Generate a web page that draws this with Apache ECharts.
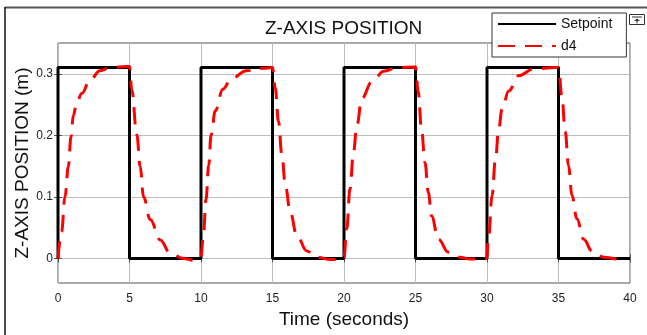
<!DOCTYPE html>
<html>
<head>
<meta charset="utf-8">
<title>Z-AXIS POSITION</title>
<script src="https://cdn.jsdelivr.net/npm/echarts@6/dist/echarts.min.js"></script>
<style>
  html, body { margin: 0; padding: 0; background: #fff; }
  #chart { width: 647px; height: 335px; }
</style>
</head>
<body>
<div id="chart"></div>
<script>
// setpoint: square wave
const setpointTime = [0, 0, 5, 5, 10, 10, 15, 15, 20, 20, 25, 25, 30, 30, 35, 35, 40];
const setpointZ = [0, 0.31, 0.31, 0, 0, 0.31, 0.31, 0, 0, 0.31, 0.31, 0, 0, 0.31, 0.31, 0, 0];

// d4 response
const d4Time = [
  0, 0.25, 0.49, 0.72, 0.91, 1.07, 1.3, 1.66, 2.24, 2.94, 3.64, 4.8, 5.0,
  5.16, 5.51, 5.75, 5.98, 6.45, 7.15, 7.85, 8.79, 9.49, 9.95,
  10.0, 10.16, 10.35, 10.54, 10.7, 11.0, 11.53, 12.12, 13.18, 14.35, 15.0,
  15.19, 15.42, 15.66, 15.9, 16.25, 16.7, 17.4, 18.1, 19.06, 19.9,
  20.0, 20.19, 20.42, 20.66, 20.9, 21.25, 21.95, 22.78, 23.7, 25.0,
  25.19, 25.42, 25.66, 25.9, 26.12, 26.6, 27.3, 28.1, 28.8, 29.77,
  29.97, 30.12, 30.35, 30.59, 30.82, 31.05, 31.52, 32.22, 33.28, 34.7, 35.0,
  35.23, 35.47, 35.7, 35.94, 36.29, 36.76, 37.34, 38.16, 39.1, 39.3
];
const d4Z = [
  0, 0.043, 0.1, 0.149, 0.198, 0.232, 0.252, 0.268, 0.29, 0.305, 0.31, 0.312, 0.312,
  0.274, 0.201, 0.149, 0.1, 0.063, 0.03, 0.008, 0, -0.003, -0.001,
  0.004, 0.034, 0.096, 0.151, 0.2, 0.24, 0.275, 0.292, 0.305, 0.309, 0.31,
  0.277, 0.222, 0.167, 0.118, 0.074, 0.037, 0.012, 0.002, -0.002, -0.002,
  0.002, 0.048, 0.113, 0.172, 0.216, 0.26, 0.287, 0.304, 0.31, 0.311,
  0.271, 0.21, 0.156, 0.107, 0.069, 0.031, 0.01, 0.002, -0.001, -0.001,
  0, 0.037, 0.102, 0.161, 0.21, 0.243, 0.272, 0.297, 0.308, 0.31, 0.31,
  0.265, 0.206, 0.151, 0.102, 0.064, 0.031, 0.012, 0.002, -0.001, -0.001
];

const yTicks = [0, 0.1, 0.2, 0.3];
const xTicks = [0, 5, 10, 15, 20, 25, 30, 35, 40];

const font = "'Liberation Sans', Arial, Helvetica, sans-serif";

const pairs = (xs, ys) => xs.map((x, i) => [x, ys[i]]);

const chart = echarts.init(document.getElementById('chart'));

const option = {
  animation: false,
  backgroundColor: '#fff',
  title: {
    text: 'Z-AXIS POSITION',
    left: 265,
    top: 19,
    padding: 0,
    textStyle: { fontFamily: font, fontSize: 19, fontWeight: 'normal', color: '#111' }
  },
  legend: {
    orient: 'vertical',
    left: 492,
    top: 13,
    padding: [4, 14, 4, 5],
    itemGap: 8,
    itemWidth: 58,
    itemHeight: 14,
    backgroundColor: '#fff',
    borderColor: '#333',
    borderWidth: 1,
    itemStyle: { color: 'transparent', borderWidth: 0, opacity: 0 },
    textStyle: { fontFamily: font, fontSize: 14, color: '#111' },
    data: ['Setpoint', 'd4']
  },
  grid: {
    left: 58,
    right: 17,
    top: 43,
    bottom: 52,
    outerBoundsMode: 'none',
    show: true,
    borderColor: '#555',
    borderWidth: 1,
    backgroundColor: '#fff'
  },
  xAxis: [
    {
      type: 'value',
      min: xTicks[0],
      max: xTicks[xTicks.length - 1],
      interval: 5,
      name: 'Time (seconds)',
      nameLocation: 'middle',
      nameGap: 25,
      nameTextStyle: { fontFamily: font, fontSize: 19, color: '#111' },
      axisLine: { show: false },
      axisTick: { show: true, inside: true, length: 4, lineStyle: { color: '#555' } },
      axisLabel: { margin: 10, fontFamily: font, fontSize: 12, color: '#222' },
      splitLine: { show: true, lineStyle: { color: '#bdbdbd', width: 1 } }
    },
    {
      type: 'value',
      position: 'top',
      min: xTicks[0],
      max: xTicks[xTicks.length - 1],
      interval: 5,
      axisLine: { show: false },
      axisTick: { show: true, inside: true, length: 4, lineStyle: { color: '#555' } },
      axisLabel: { show: false },
      splitLine: { show: false }
    }
  ],
  yAxis: [
    {
      type: 'value',
      min: -0.04,
      max: 0.35,
      name: 'Z-AXIS POSITION (m)',
      nameLocation: 'middle',
      nameGap: 26,
      nameMoveOverlap: false,
      nameTextStyle: { fontFamily: font, fontSize: 19, color: '#111' },
      axisLine: { show: false },
      axisTick: { show: true, inside: true, length: 4, customValues: yTicks, lineStyle: { color: '#555' } },
      axisLabel: { margin: 5, fontFamily: font, fontSize: 12, color: '#222', customValues: yTicks },
      splitLine: { show: true, lineStyle: { color: '#bdbdbd', width: 1 } }
    },
    {
      type: 'value',
      position: 'right',
      min: -0.04,
      max: 0.35,
      axisLine: { show: false },
      axisTick: { show: true, inside: true, length: 4, customValues: yTicks, lineStyle: { color: '#555' } },
      axisLabel: { show: false },
      splitLine: { show: false }
    }
  ],
  series: [
    {
      name: 'Setpoint',
      type: 'line',
      data: pairs(setpointTime, setpointZ),
      showSymbol: false,
      symbol: 'none',
      lineStyle: { color: '#000', width: 3 },
      itemStyle: { color: '#000' },
      z: 3
    },
    {
      name: 'd4',
      type: 'line',
      data: pairs(d4Time, d4Z),
      showSymbol: false,
      symbol: 'none',
      smooth: 0.4,
      smoothMonotone: 'x',
      lineStyle: { color: '#ff0000', width: 3, type: [17, 10] },
      itemStyle: { color: '#ff0000' },
      z: 4
    }
  ],
  graphic: [
    // outer figure frame
    { type: 'line', shape: { x1: 5, y1: 7.5, x2: 647, y2: 7.5 }, style: { stroke: '#555', lineWidth: 2 }, z: 100 },
    { type: 'line', shape: { x1: 5, y1: 7, x2: 5, y2: 335 }, style: { stroke: '#111', lineWidth: 1.5 }, z: 100 },
    // little pin icon on the right
    { type: 'rect', shape: { x: 629.5, y: 14.5, width: 15, height: 10 }, style: { fill: '#fff', stroke: '#333', lineWidth: 1 }, z: 100 },
    { type: 'line', shape: { x1: 632, y1: 17, x2: 642, y2: 17 }, style: { stroke: '#333', lineWidth: 1 }, z: 100 },
    { type: 'polygon', shape: { points: [[634, 21], [640, 21], [637, 18.5]] }, style: { fill: '#333' }, z: 100 },
    { type: 'line', shape: { x1: 637, y1: 21, x2: 637, y2: 23.5 }, style: { stroke: '#333', lineWidth: 1 }, z: 100 }
  ]
};

chart.setOption(option);
</script>
</body>
</html>
